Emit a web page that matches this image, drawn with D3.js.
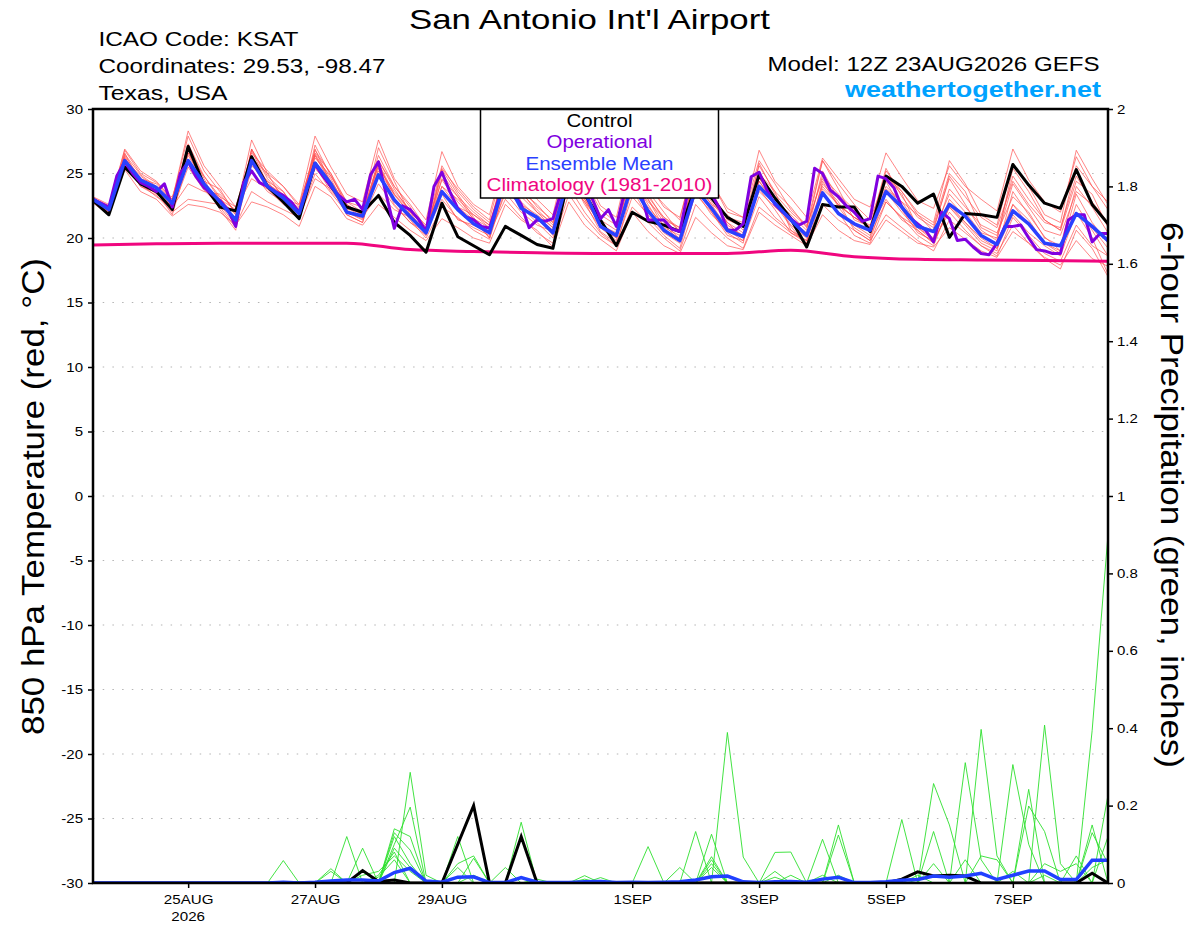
<!DOCTYPE html>
<html>
<head>
<meta charset="utf-8">
<title>San Antonio Int'l Airport</title>
<script src="https://d3js.org/d3.v7.min.js"></script>
<style>
  body { margin: 0; background: #fff; }
  svg { display: block; font-family: "Liberation Sans", Arial, sans-serif; }
</style>
</head>
<body>
<svg id="chart" width="1200" height="927"></svg>
<script>
// GEFS run 12Z 23AUG2026, 6-hourly steps (operational is 3-hourly, climatology daily)
var runStart = Date.UTC(2026, 7, 23, 12);
var runEnd = Date.UTC(2026, 8, 8, 12);

// 850 hPa temperature (C)
var control = [
  22.9, 21.8, 25.5, 24.2, 23.6, 22.2, 27.1, 24.1, 22.4, 22.1, 26.3, 24.0, 22.8, 21.5, 25.8, 24.0,
  22.4, 22.0, 23.3, 21.2, 20.2, 18.9, 22.7, 20.1, 19.4, 18.7, 20.9, 20.2, 19.5, 19.2, 24.8, 23.4,
  21.4, 19.4, 22.0, 21.3, 21.0, 20.5, 24.0, 23.1, 21.6, 20.9, 24.9, 23.1, 21.5, 19.3, 22.6, 22.4,
  22.4, 20.5, 24.8, 24.0, 22.7, 23.4, 20.05, 21.9, 21.8, 21.6, 25.7, 24.1, 22.7, 22.3, 25.3, 22.6,
  21.1
];
var ensMean = [
  23.0, 22.2, 26.0, 24.5, 23.9, 22.7, 26.0, 24.2, 22.8, 21.4, 26.0, 24.0, 23.1, 21.9, 25.8, 24.2,
  22.0, 21.7, 24.9, 22.95, 21.65, 20.4, 23.6, 22.2, 21.1, 20.4, 24.6, 22.3, 21.6, 20.4, 24.8, 23.6,
  20.9, 20.2, 24.2, 22.1, 20.6, 19.8, 23.8, 22.3, 20.6, 20.1, 24.0, 22.7, 21.4, 20.2, 23.5, 21.9,
  21.1, 20.6, 23.6, 22.4, 20.9, 20.5, 22.6, 21.7, 20.2, 19.5, 22.1, 21.1, 19.6, 19.4, 21.9, 20.9,
  19.8
];
var operational = [
  23.0, 22.7, 22.4, 24.8, 25.9, 25.0, 24.3, 24.0, 23.6, 24.2, 22.4, 25.0, 25.9, 24.75, 23.9, 23.4,
  22.9, 22.2, 20.9, 24.3, 25.2, 24.3, 24.0, 23.6, 23.3, 22.8, 22.0, 24.0, 25.7, 24.8, 24.0, 23.3,
  22.8, 23.0, 22.2, 24.9, 25.9, 23.3, 20.75, 22.5, 22.2, 21.5, 20.5, 24.0, 25.1, 23.6, 22.3, 21.65,
  21.4, 20.9, 20.75, 22.7, 24.8, 23.5, 22.6, 20.8, 21.4, 21.3, 21.5, 23.5, 25.0, 24.5, 24.0, 23.0,
  21.5, 22.2, 20.9, 23.5, 24.8, 23.8, 21.4, 21.4, 21.4, 20.7, 20.5, 23.5, 25.0, 24.3, 23.4, 22.3,
  20.6, 20.6, 21.1, 24.75, 25.1, 23.7, 22.6, 22.0, 21.5, 21.0, 21.3, 25.4, 25.0, 23.7, 23.2, 22.5,
  22.0, 21.3, 21.5, 24.8, 24.6, 23.9, 22.4, 21.6, 21.1, 20.6, 19.7, 22.0, 21.5, 19.8, 19.9, 19.3,
  18.8, 18.7, 19.6, 20.9, 20.9, 21.0, 20.0, 19.1, 19.0, 18.8, 18.8, 21.4, 21.8, 21.8, 19.7, 20.35,
  20.35
];
var climatology = [
  19.45, 19.55, 19.6, 19.6, 19.6, 19.1, 18.95, 18.85, 18.8, 18.8, 18.8, 19.05, 18.55, 18.35, 18.3, 18.25,
  18.2
];
var members = [
  [23.1,22.4,26.8,25.0, 24.3,23.0,27.9,25.2, 23.6,22.0,27.6,25.0, 24.0,22.6,27.9,25.5, 23.4,22.8,27.6,24.6, 23.0,21.4,26.7,24.0, 22.6,21.8,26.5,24.3, 23.0,21.8,27.0,25.0, 22.5,21.6,26.8,24.0, 22.6,21.4,26.6,24.3, 22.3,21.6,26.8,24.4, 23.1,21.6,26.2,24.6, 23.0,22.4,26.6,24.7, 22.9,22.3,25.6,24.0, 23.0,22.1,26.9,24.5, 22.8,22.0,26.3,24.0, 22.8],
  [22.9,22.0,25.3,23.6, 23.0,21.7,22.6,22.4, 22.0,21.0,22.8,22.4, 21.8,20.9,24.0,23.2, 21.5,21.0,22.6,21.6, 20.6,19.8,21.5,20.8, 20.0,19.6,22.6,21.4, 20.6,19.3,22.8,21.0, 19.9,19.0,22.0,20.5, 19.4,18.8,21.6,20.4, 19.4,19.1,22.0,21.0, 20.2,19.4,21.8,20.6, 19.8,19.5,21.4,20.5, 19.6,19.3,20.8,19.9, 19.0,18.5,20.5,19.6, 18.5,17.9,19.8,18.4, 17.8],
  [23.2,22.6,26.4,24.6, 23.8,22.6,26.6,24.8, 23.0,21.8,26.8,24.2, 23.3,22.0,26.2,24.8, 22.8,22.0,25.6,23.3, 22.0,20.8,24.5,22.8, 21.5,20.8,25.8,23.5, 22.2,21.0,25.5,23.8, 21.4,20.6,25.3,23.0, 21.2,19.9,24.4,22.6, 20.8,20.2,25.8,23.4, 22.0,20.9,24.6,22.5, 21.6,21.0,24.0,22.8, 21.8,20.5,23.4,22.0, 20.4,20.0,24.2,22.4, 20.6,20.2,23.6,22.6, 21.0],
  [22.8,21.9,25.8,24.0, 23.5,22.2,25.5,23.7, 22.5,21.6,25.2,23.6, 22.8,21.5,25.0,23.5, 22.0,21.5,24.2,22.5, 21.2,20.5,23.0,21.5, 20.8,20.2,23.5,22.0, 21.0,20.5,24.6,22.8, 20.5,19.6,23.2,21.8, 20.4,19.6,24.8,23.0, 21.2,20.4,23.6,22.4, 21.3,20.2,25.2,23.0, 21.9,20.8,23.0,21.4, 20.6,19.6,22.4,21.0, 19.6,19.0,23.6,21.8, 20.1,19.0,22.0,20.8, 19.2],
  [23.0,22.2,26.5,24.9, 24.0,22.8,27.3,24.8, 23.2,21.2,26.4,24.2, 23.4,21.8,27.2,24.8, 22.6,21.8,26.0,23.8, 22.0,20.2,25.3,23.4, 21.6,20.0,26.2,23.2, 22.0,20.8,26.3,24.6, 21.2,20.2,25.6,23.4, 21.4,20.8,26.0,23.6, 21.4,20.9,24.6,23.0, 21.8,20.6,26.0,23.8, 21.4,20.9,25.4,23.2, 21.6,20.8,24.6,22.6, 20.6,19.8,25.4,23.6, 21.4,20.6,25.6,24.0, 22.2],
  [23.1,22.5,26.2,24.4, 23.6,23.2,26.8,24.0, 22.7,21.4,26.9,24.6, 23.3,22.3,26.5,24.6, 22.2,22.1,25.2,23.4, 22.2,20.6,24.0,23.0, 21.8,21.0,25.0,23.6, 22.6,21.2,25.8,23.0, 21.0,20.4,24.6,22.6, 20.6,20.0,25.4,23.6, 21.0,20.2,24.4,22.8, 21.0,20.0,23.8,22.6, 21.6,20.8,24.4,22.2, 20.4,19.8,23.0,21.6, 20.2,19.6,22.6,21.4, 19.6,19.0,23.4,21.2, 19.6],
  [22.7,21.8,25.6,24.2, 23.6,21.8,26.0,24.0, 22.4,20.8,25.8,23.8, 22.9,21.6,25.4,24.0, 21.8,21.2,25.8,23.0, 21.4,20.0,22.4,21.6, 20.6,19.9,23.8,22.4, 21.2,20.0,24.0,22.0, 20.4,19.4,23.8,21.6, 20.2,19.2,23.6,21.8, 20.6,19.8,23.2,21.6, 20.6,19.8,23.6,22.0, 21.0,20.2,22.8,21.6, 20.8,19.8,22.0,20.6, 19.4,18.6,21.6,20.2, 18.8,18.2,21.0,19.4, 18.6],
  [23.0,22.0,26.0,24.6, 24.2,22.9,26.4,24.4, 23.8,21.8,26.2,25.0, 23.0,22.6,26.6,25.0, 22.8,22.4,26.4,24.0, 22.6,20.8,25.6,23.6, 22.2,21.2,24.8,22.6, 21.4,20.6,25.4,23.8, 21.8,21.0,24.8,23.6, 22.0,20.4,25.0,23.4, 21.6,21.2,25.6,23.6, 22.4,20.8,24.8,23.4, 22.2,20.6,23.8,22.8, 21.0,20.6,24.8,23.2, 21.6,20.8,24.4,22.6, 21.2,20.8,24.8,22.8, 21.2],
  [22.9,22.3,26.6,24.2, 23.2,22.4,27.2,24.6, 22.2,20.6,26.9,24.8, 23.6,21.8,26.9,24.2, 22.0,21.4,25.0,22.6, 21.2,20.2,24.6,23.2, 21.4,20.0,24.2,22.4, 21.6,20.2,25.0,22.6, 20.8,20.0,25.0,23.0, 20.8,20.2,24.4,22.0, 20.4,19.6,25.0,23.6, 20.6,19.6,24.4,22.4, 20.8,20.0,24.8,23.4, 20.8,20.0,23.8,22.4, 21.0,20.4,23.2,22.0, 20.0,19.4,24.0,22.4, 20.4],
  [23.2,22.2,25.9,24.5, 23.8,22.4,24.2,23.6, 23.4,22.0,25.6,24.4, 23.6,21.8,26.4,24.2, 21.8,21.2,25.4,23.6, 22.2,21.0,23.6,22.4, 21.8,20.8,25.4,22.8, 21.6,20.6,24.2,22.8, 21.2,20.0,24.2,22.4, 21.0,19.8,23.4,22.0, 20.2,19.8,24.4,22.6, 20.9,19.4,23.4,22.0, 20.2,19.6,22.8,21.6, 20.2,19.4,22.6,21.2, 19.8,19.2,22.6,21.0, 19.6,18.8,22.6,20.6, 18.6],
  [22.8,22.1,26.3,24.3, 23.4,22.5,26.6,24.2, 23.0,22.2,24.6,23.8, 22.6,22.0,25.6,23.6, 22.4,21.6,25.8,23.4, 21.8,20.6,24.0,22.4, 21.4,20.4,24.6,23.6, 22.0,21.2,24.8,23.0, 21.0,20.2,24.4,22.8, 21.6,20.6,24.8,22.8, 21.2,20.0,25.2,23.0, 21.4,20.4,24.0,22.6, 21.6,20.8,25.2,23.6, 21.8,21.0,25.0,23.6, 20.8,20.2,24.8,23.0, 21.4,20.6,24.4,23.4, 20.8],
  [23.0,22.3,26.1,24.8, 23.9,22.6,25.9,24.0, 23.2,22.4,26.0,24.4, 22.8,21.9,26.4,24.4, 22.6,21.8,26.0,24.0, 22.4,20.4,25.0,23.2, 22.0,21.0,24.4,22.6, 21.8,20.8,24.8,23.2, 20.8,19.8,24.6,23.2, 21.6,20.8,24.2,22.6, 21.8,20.6,23.8,22.2, 20.4,19.8,24.2,22.8, 20.6,19.8,23.6,22.0, 20.6,19.6,22.4,21.2, 20.0,19.2,21.8,20.4, 19.4,18.6,22.0,20.0, 17.2],
  [23.1,22.0,25.7,24.0, 23.3,22.0,23.0,22.8, 22.6,21.0,23.6,22.8, 22.2,21.6,24.6,23.8, 22.0,21.6,23.4,22.2, 21.6,20.6,23.4,21.4, 21.0,20.4,23.0,21.6, 20.4,19.6,23.4,21.6, 20.2,19.4,22.4,21.2, 20.0,19.0,22.6,21.2, 20.0,19.2,22.4,21.4, 20.4,19.6,22.6,21.4, 20.6,19.8,21.8,20.8, 19.8,19.0,21.4,20.4, 19.4,18.8,21.0,19.6, 18.4,17.6,20.6,19.2, 17.0],
  [22.9,22.4,26.9,25.2, 24.4,23.0,28.3,25.6, 24.0,22.4,26.6,25.2, 24.0,22.4,26.8,25.0, 22.4,21.8,27.0,24.4, 21.8,20.4,25.4,23.8, 22.4,21.4,26.2,24.0, 22.4,21.4,26.4,24.4, 22.2,21.2,25.8,24.2, 22.4,21.6,26.0,24.4, 22.0,21.6,26.0,24.2, 22.2,21.0,26.0,24.2, 22.6,21.4,24.8,23.6, 22.0,21.2,26.0,24.2, 21.8,21.0,25.8,24.0, 21.8,21.2,26.8,24.6, 22.6]
];

// 6-hour precipitation (inches)
var precipControl = [
  0,0,0,0,0,0,0,0,0,0,0,0,0,
  0,0,0,0,.032,.004,.008,0,0,0,.1,.2,0,
  0,.12,0,0,0,0,0,0,0,0,0,0,0,
  0,0,0,0,0,0,0,0,0,0,0,0,.01,
  .029,.018,.02,.018,0,0,0,0,0,0,0,.025,0
];
var precipMean = [
  0,0,0,0,0,0,0,0,0,0,0,0,.002,
  0,.002,.005,.008,.008,.005,.027,.038,.005,.002,.015,.016,.001,
  .001,.014,.002,.001,.001,.003,.004,.001,.002,.001,.002,.003,.008,
  .016,.018,.003,.001,.003,.004,.002,.01,.015,.001,.001,.003,.007,
  .009,.018,.015,.018,.025,.009,.02,.031,.031,.009,.009,.059,.059
];
var precipMembers = [
  [0,0,0,0,0,0,0,0,0,0,0,0,.058, 0,0,0,0,0,0,.13,.085,0,0,.12,0,0, 0,0,0,0,0,0,0,0,0,.094,0,0,0, 0,0,0,0,.079,.08,0,0,0,0,0,0,0, 0,.257,.15,0,0,0,0,.242,0,0,0,0,.227],
  [0,0,0,0,0,0,0,0,0,0,0,0,0, 0,0,0,.12,0,0,0,.286,.02,0,0,0,0, 0,0,0,0,0,0,0,0,0,0,0,0,.133, 0,0,0,0,0,0,0,0,.15,0,0,0,0, 0,0,0,0,.397,.07,0,0,0,0,0,.15,0],
  [0,0,0,0,0,0,0,0,0,0,0,0,0, 0,0,0,0,.09,0,.1,.196,0,0,0,.064,0, 0,0,0,0,0,0,0,0,0,0,0,0,0, 0,.389,.067,0,0,0,0,0,0,0,0,0,.164, 0,0,0,0,0,0,0,0,.408,.05,0,0,0],
  [0,0,0,0,0,0,0,0,0,0,0,0,0, 0,0,.037,0,0,0,.14,.12,0,0,0,0,0, 0,.157,0,0,0,0,0,0,0,0,0,0,0, .126,0,0,0,0,0,0,0,.124,0,0,0,0, 0,0,0,.311,.06,0,0,0,0,0,0,.394,.9],
  [0,0,0,0,0,0,0,0,0,0,0,0,0, 0,0,.03,0,0,.02,.08,0,0,0,.05,.07,0, 0,0,0,0,0,0,0,0,0,0,0,.04,0, .068,0,0,0,0,0,0,.113,0,0,0,0,0, 0,0,0,0,0,0,.306,.1,0,0,.07,0,0],
  [0,0,0,0,0,0,0,0,0,0,0,0,0, 0,0,0,0,.03,0,.12,.05,0,0,.04,0,0, .04,0,0,0,0,.019,0,0,0,0,0,0,0, .06,0,0,0,.03,0,0,0,0,0,0,0,0, 0,.133,0,0,0,0,0,.199,.133,0,0,0,0],
  [0,0,0,0,0,0,0,0,0,0,0,0,0, 0,0,0,0,0,.015,.06,0,0,0,0,0,0, 0,0,0,0,0,0,.014,0,0,0,0,0,0, .05,0,0,0,0,.02,0,0,.02,0,0,0,0, 0,.05,0,0,.07,.06,0,0,0,0,0,.13,.05],
  [0,0,0,0,0,0,0,0,0,0,0,0,0, 0,0,0,0,0,0,.09,.04,0,0,0,.02,0, 0,0,.01,0,0,0,0,0,0,0,0,0,0, 0,0,0,0,.015,0,0,0,0,0,0,0,.01, 0,0,0,.06,0,0,0,0,.05,.03,.05,0,.12],
  [0,0,0,0,0,0,0,0,0,0,0,0,0, 0,0,0,0,.02,.03,.07,.03,0,0,0,0,0, 0,0,0,0,0,.01,0,0,0,0,0,0,0, .04,0,0,0,0,0,0,.02,0,0,0,0,0, .02,0,0,0,0,0,.03,0,.02,0,0,.04,.06]
];

// axis ticks
var tempTicks = [30, 25, 20, 15, 10, 5, 0, -5, -10, -15, -20, -25, -30];
var precipTicks = [0, 0.2, 0.4, 0.6, 0.8, 1, 1.2, 1.4, 1.6, 1.8, 2];
var dateTicks = ["2026-08-25", "2026-08-27", "2026-08-29", "2026-09-01", "2026-09-03", "2026-09-05", "2026-09-07"];
var dateLabels = ["25AUG", "27AUG", "29AUG", "1SEP", "3SEP", "5SEP", "7SEP"];

var margin = { top: 109, right: 92, bottom: 44, left: 93 };
var W = 1200, H = 927;

var svg = d3.select("#chart");

var x = d3.scaleUtc()
  .domain([new Date(runStart), new Date(runEnd)])
  .range([margin.left, W - margin.right]);
var yT = d3.scaleLinear().domain([-30, 30]).range([H - margin.bottom, margin.top]);
var yP = d3.scaleLinear().domain([0, 2]).range([H - margin.bottom, margin.top]);

function timeAt(i, hours) { return new Date(runStart + i * hours * 3600000); }

// the original font is drawn wider than Arial, so widen the glyphs
function widen(sel, factor) {
  sel.each(function() {
    var w = this.getComputedTextLength();
    d3.select(this).attr("textLength", w * factor).attr("lengthAdjust", "spacingAndGlyphs");
  });
}
function fitWidth(sel, w) {
  sel.attr("textLength", w).attr("lengthAdjust", "spacingAndGlyphs");
}

svg.append("defs").append("clipPath").attr("id", "plot")
  .append("rect")
  .attr("x", margin.left).attr("y", margin.top)
  .attr("width", W - margin.left - margin.right)
  .attr("height", H - margin.top - margin.bottom);

// dotted grid lines
svg.append("g").selectAll("line")
  .data(tempTicks.filter(function(d) { return d > -30 && d < 30; }))
  .join("line")
  .attr("x1", margin.left).attr("x2", W - margin.right)
  .attr("y1", function(d) { return yT(d); }).attr("y2", function(d) { return yT(d); })
  .attr("stroke", "#b4b4b4").attr("stroke-width", 1.2)
  .attr("stroke-dasharray", "1.5,8.2");

var plot = svg.append("g").attr("clip-path", "url(#plot)");

var line6T = d3.line().x(function(d, i) { return x(timeAt(i, 6)); }).y(function(d) { return yT(d); });
var line3T = d3.line().x(function(d, i) { return x(timeAt(i, 3)); }).y(function(d) { return yT(d); });
var line24T = d3.line().x(function(d, i) { return x(timeAt(i, 24)); }).y(function(d) { return yT(d); }).curve(d3.curveMonotoneX);
var line6P = d3.line().x(function(d, i) { return x(timeAt(i, 6)); }).y(function(d) { return yP(d); });

// ensemble members
plot.append("g").selectAll("path").data(members).join("path")
  .attr("d", line6T).attr("fill", "none")
  .attr("stroke", "#ff4a4a").attr("stroke-width", 0.9).attr("stroke-opacity", 0.75);

plot.append("g").selectAll("path").data(precipMembers).join("path")
  .attr("d", line6P).attr("fill", "none")
  .attr("stroke", "#2ee02e").attr("stroke-width", 0.9);

plot.append("path").datum(climatology).attr("d", line24T)
  .attr("fill", "none").attr("stroke", "#f0067f").attr("stroke-width", 3);

plot.append("path").datum(precipControl).attr("d", line6P)
  .attr("fill", "none").attr("stroke", "#000").attr("stroke-width", 3);
plot.append("path").datum(precipMean).attr("d", line6P)
  .attr("fill", "none").attr("stroke", "#2040ff").attr("stroke-width", 3.5);

plot.append("path").datum(control).attr("d", line6T)
  .attr("fill", "none").attr("stroke", "#000").attr("stroke-width", 3).attr("stroke-linejoin", "round");
plot.append("path").datum(operational).attr("d", line3T)
  .attr("fill", "none").attr("stroke", "#8000e0").attr("stroke-width", 3).attr("stroke-linejoin", "round");
plot.append("path").datum(ensMean).attr("d", line6T)
  .attr("fill", "none").attr("stroke", "#2a40ff").attr("stroke-width", 3.5).attr("stroke-linejoin", "round");

// legend box
var legend = svg.append("g");
legend.append("rect")
  .attr("x", 480.5).attr("y", margin.top).attr("width", 238).attr("height", 89)
  .attr("fill", "#fff").attr("stroke", "#000").attr("stroke-width", 1.5);
var legendItems = [
  { label: "Control", color: "#000", w: 66 },
  { label: "Operational", color: "#8000e0", w: 106 },
  { label: "Ensemble Mean", color: "#2a40ff", w: 148 },
  { label: "Climatology (1981-2010)", color: "#f0067f", w: 226 }
];
legend.selectAll("text").data(legendItems).join("text")
  .attr("x", 599.5).attr("y", function(d, i) { return 127 + i * 21.4; })
  .attr("text-anchor", "middle").attr("font-size", 18)
  .attr("fill", function(d) { return d.color; })
  .attr("textLength", function(d) { return d.w; }).attr("lengthAdjust", "spacingAndGlyphs")
  .text(function(d) { return d.label; });

// frame
svg.append("rect")
  .attr("x", margin.left).attr("y", margin.top)
  .attr("width", W - margin.left - margin.right)
  .attr("height", H - margin.top - margin.bottom)
  .attr("fill", "none").attr("stroke", "#000").attr("stroke-width", 2.5);

// axes
var leftAxis = svg.append("g")
  .attr("transform", "translate(" + margin.left + ",0)")
  .call(d3.axisLeft(yT).tickValues(tempTicks).tickSize(5).tickPadding(5)
    .tickFormat(function(d) { return String(d); }));
var rightAxis = svg.append("g")
  .attr("transform", "translate(" + (W - margin.right) + ",0)")
  .call(d3.axisRight(yP).tickValues(precipTicks).tickSize(5).tickPadding(4)
    .tickFormat(function(d) { return String(d); }));
var bottomAxis = svg.append("g")
  .attr("transform", "translate(0," + (H - margin.bottom) + ")")
  .call(d3.axisBottom(x)
    .tickValues(dateTicks.map(function(d) { return new Date(d + "T00:00:00Z"); }))
    .tickSize(5).tickPadding(6)
    .tickFormat(function(d, i) { return dateLabels[i]; }));

[leftAxis, rightAxis, bottomAxis].forEach(function(a) {
  a.select(".domain").remove();
  a.selectAll("line").attr("stroke", "#000").attr("stroke-width", 1.5);
  a.selectAll("text").attr("font-size", 12.5).attr("font-family", "Liberation Sans, Arial, sans-serif").attr("fill", "#000");
});
bottomAxis.selectAll("text").attr("font-size", 13.5);
widen(leftAxis.selectAll("text"), 1.2);
widen(rightAxis.selectAll("text"), 1.2);
widen(bottomAxis.selectAll("text"), 1.12);

widen(svg.append("text")
  .attr("x", x(new Date("2026-08-25T00:00:00Z"))).attr("y", 921)
  .attr("text-anchor", "middle").attr("font-size", 13.5).text("2026"), 1.12);

// titles
fitWidth(svg.append("text").attr("x", 589.5).attr("y", 29).attr("text-anchor", "middle")
  .attr("font-size", 28).text("San Antonio Int'l Airport"), 361);

var info = [
  { text: "ICAO Code: KSAT", w: 200 },
  { text: "Coordinates: 29.53, -98.47", w: 287 },
  { text: "Texas, USA", w: 129 }
];
svg.append("g").selectAll("text").data(info).join("text")
  .attr("x", 98.5).attr("y", function(d, i) { return 46 + i * 26.8; })
  .attr("font-size", 20)
  .attr("textLength", function(d) { return d.w; }).attr("lengthAdjust", "spacingAndGlyphs")
  .text(function(d) { return d.text; });

fitWidth(svg.append("text").attr("x", 1099.5).attr("y", 71).attr("text-anchor", "end")
  .attr("font-size", 20).text("Model: 12Z 23AUG2026 GEFS"), 332);
fitWidth(svg.append("text").attr("x", 1101).attr("y", 97).attr("text-anchor", "end")
  .attr("font-size", 22).attr("font-weight", "bold").attr("fill", "#00a2ff")
  .text("weathertogether.net"), 256);

fitWidth(svg.append("text")
  .attr("transform", "translate(33,496.5) rotate(-90)")
  .attr("text-anchor", "middle").attr("dominant-baseline", "central")
  .attr("font-size", 31).text("850 hPa Temperature (red, \u00B0C)"), 477);
fitWidth(svg.append("text")
  .attr("transform", "translate(1171,495) rotate(90)")
  .attr("text-anchor", "middle").attr("dominant-baseline", "central")
  .attr("font-size", 31).text("6-hour Precipitation (green, inches)"), 546);
</script>
</body>
</html>
